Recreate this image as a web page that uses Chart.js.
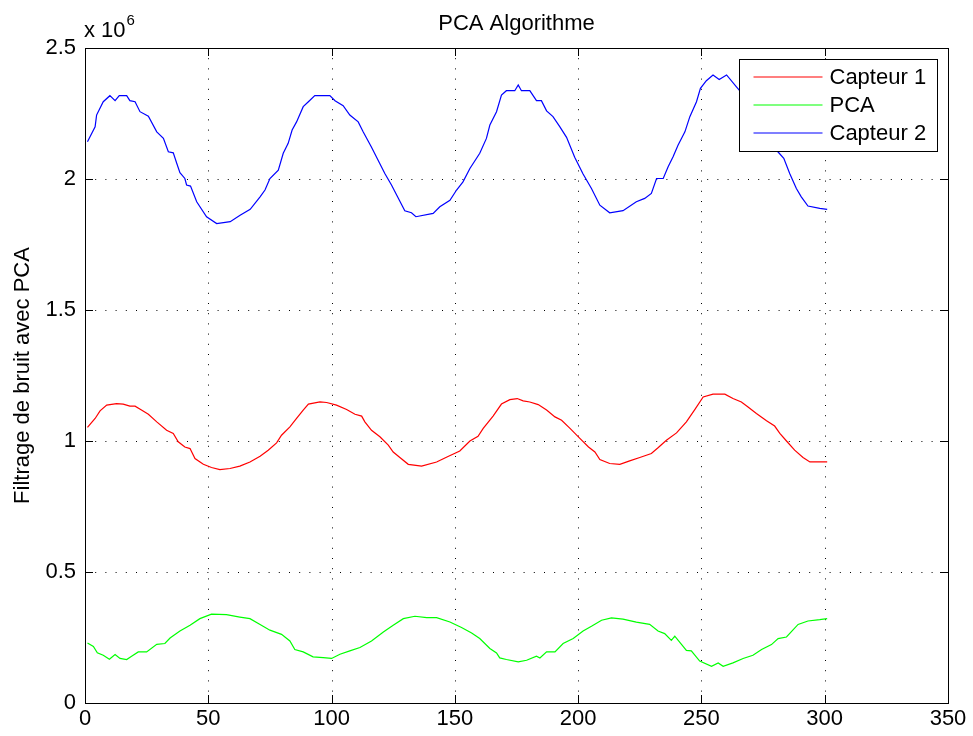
<!DOCTYPE html>
<html>
<head>
<meta charset="utf-8">
<script src="https://cdn.jsdelivr.net/npm/chart.js@4.4.0/dist/chart.umd.min.js"></script>
<style>
html,body{margin:0;padding:0;background:#fff;}
canvas{display:block;}
</style>
</head>
<body>
<canvas id="c" width="973" height="736"></canvas>
<script>
// ---- Data (y values in units of 10^6) ----
const xTicks = [0, 50, 100, 150, 200, 250, 300, 350];
const yTicks = [0, 0.5, 1, 1.5, 2, 2.5];
const seriesNames = ["Capteur 1", "PCA", "Capteur 2"];

const capteur1X = [1,4.1,6.1,8.8,12.8,15.5,18.2,20.3,22.9,25.7,29.1,33.1,35.8,37.8,40.5,42.6,44.6,48,51.3,54.7,58.8,62.8,66.9,71,74.3,77.7,79.7,83.1,85.8,88.5,90.6,95.3,98,102,106.1,109.5,112.2,113.5,116.2,119.6,123,125,127.7,131.1,136.5,142.6,147,152,156.1,159.4,161.5,165.5,168.9,172.3,175.3,177.7,180.4,183.8,187.2,190.6,193.3,196.7,200.7,204.2,206.8,208.8,212.8,216.9,220.9,225,229.7,232.4,235.8,239.9,243.9,247.3,250.7,254.7,259.5,262.8,266.2,268.9,272.3,276.4,279.7,281.8,284.5,287.8,291.2,294,301];
const capteur1Y = [1.052,1.086,1.115,1.137,1.143,1.141,1.133,1.133,1.118,1.102,1.073,1.041,1.029,0.997,0.977,0.971,0.933,0.911,0.899,0.891,0.895,0.904,0.920,0.942,0.965,0.993,1.022,1.054,1.086,1.118,1.141,1.149,1.147,1.137,1.120,1.102,1.095,1.073,1.041,1.016,0.984,0.958,0.937,0.911,0.904,0.920,0.940,0.962,1.000,1.018,1.048,1.095,1.141,1.158,1.162,1.153,1.149,1.139,1.118,1.092,1.079,1.048,1.010,0.977,0.958,0.929,0.914,0.911,0.924,0.937,0.952,0.974,1.003,1.031,1.073,1.120,1.168,1.179,1.179,1.162,1.149,1.130,1.105,1.077,1.057,1.029,1.000,0.965,0.937,0.920,0.920];

const pcaX = [1,3.4,5,7.4,9.9,12.2,14.2,16.9,18.9,21.6,25,29.1,32.4,34.5,38.5,42.6,46.6,51.3,57.4,62.8,66.9,71,75,79.7,83.1,85.1,88.5,92.5,96.6,100,103.4,107.4,111.5,116.2,121,125,129.1,133.8,138.6,142.6,148,152.7,156.8,160.1,164.2,166.9,168.2,170.9,175.7,179.1,183.1,184.5,187.2,190.6,193.9,198,202,205.4,209.5,213.5,218.2,223.6,229,232.4,235.1,237.8,239.2,243.9,245.9,249.3,254.1,256.8,258.8,262.8,266.9,270.9,274.4,278.4,281.1,284.5,289.2,293.2,298,301];
const pcaY = [0.229,0.216,0.192,0.182,0.167,0.185,0.170,0.166,0.178,0.195,0.195,0.224,0.227,0.248,0.275,0.297,0.322,0.339,0.337,0.328,0.322,0.300,0.278,0.262,0.237,0.204,0.195,0.176,0.173,0.170,0.186,0.199,0.212,0.237,0.271,0.297,0.322,0.331,0.326,0.326,0.309,0.288,0.267,0.246,0.208,0.191,0.172,0.166,0.157,0.163,0.179,0.172,0.195,0.195,0.227,0.246,0.275,0.293,0.316,0.325,0.320,0.309,0.300,0.275,0.265,0.239,0.255,0.201,0.199,0.160,0.140,0.153,0.140,0.153,0.170,0.182,0.204,0.223,0.246,0.252,0.300,0.313,0.318,0.322];

const capteur2X = [1,4.1,4.7,7.4,10.1,12.2,13.9,16.9,18.2,20.3,22.3,25.7,29.1,31.8,33.8,35.8,37.2,38.5,40.5,41.2,42.8,45.3,49.3,53.4,58.9,62.9,67,71,73,75,78.4,80.4,82.4,84,85.8,88.5,90.6,93.2,99.3,101.4,104.7,107.4,110.8,112.8,116.2,121.6,124.3,129.7,132.4,134.2,141.2,143.9,148,150.7,153.3,156.1,160.1,162.8,164.2,166.9,168.9,170.9,174.3,175.7,177,180.4,183.1,185.1,187.2,189.8,192.6,195.3,198.6,202,205.4,208.8,212.8,218.2,223.6,227,229.7,231.8,234.5,236.5,238.5,240.5,243.3,245.3,248,249.6,252,254.7,257.2,260.2,264.2,268,272,276,279,281,283.4,285.8,288.5,290.5,293.2,298,301];
const capteur2Y = [2.142,2.199,2.244,2.295,2.318,2.299,2.318,2.318,2.299,2.295,2.257,2.240,2.180,2.155,2.104,2.100,2.060,2.024,2.002,1.977,1.973,1.913,1.856,1.830,1.837,1.862,1.884,1.932,1.958,2.002,2.034,2.098,2.136,2.187,2.218,2.276,2.295,2.318,2.318,2.299,2.280,2.244,2.218,2.180,2.121,2.021,1.977,1.879,1.871,1.856,1.869,1.894,1.919,1.958,1.989,2.040,2.098,2.155,2.206,2.257,2.320,2.337,2.337,2.359,2.337,2.337,2.299,2.299,2.260,2.238,2.199,2.159,2.083,2.019,1.964,1.900,1.871,1.879,1.913,1.926,1.945,2.002,2.002,2.047,2.085,2.129,2.180,2.238,2.295,2.346,2.375,2.397,2.380,2.397,2.352,2.310,2.250,2.180,2.130,2.104,2.079,2.021,1.964,1.932,1.897,1.888,1.884];

const seriesX = [capteur1X, pcaX, capteur2X];
const seriesY = [capteur1Y, pcaY, capteur2Y];
const seriesColors = ["#ff0000", "#00ff00", "#0000ff"];

const FONT = "'Liberation Sans', Arial, Helvetica, sans-serif";
const FS = 22;

const datasets = seriesNames.map((name, k) => ({
  label: name,
  data: seriesX[k].map((x, i) => ({ x: x, y: seriesY[k][i] })),
  borderColor: seriesColors[k],
  borderWidth: 1.2,
  pointRadius: 0,
  fill: false,
  tension: 0
}));

const matlabPlugin = {
  id: 'matlab',
  beforeDatasetsDraw(chart) {
    const { ctx, chartArea: a, scales: { x, y } } = chart;
    ctx.save();
    ctx.strokeStyle = '#000';
    ctx.lineWidth = 1;
    ctx.setLineDash([1, 9.2]);
    xTicks.forEach(v => {
      if (v === xTicks[0] || v === xTicks[xTicks.length - 1]) return;
      const px = Math.round(x.getPixelForValue(v)) + 0.5;
      ctx.beginPath(); ctx.moveTo(px, a.top); ctx.lineTo(px, a.bottom); ctx.stroke();
    });
    yTicks.forEach(v => {
      if (v === yTicks[0] || v === yTicks[yTicks.length - 1]) return;
      const py = Math.round(y.getPixelForValue(v)) + 0.5;
      ctx.beginPath(); ctx.moveTo(a.left, py); ctx.lineTo(a.right, py); ctx.stroke();
    });
    ctx.restore();
  },
  afterDraw(chart) {
    const { ctx, chartArea: a, scales: { x, y } } = chart;
    ctx.save();
    // ticks (inward)
    ctx.strokeStyle = '#000';
    ctx.lineWidth = 1;
    ctx.setLineDash([]);
    const tl = 8;
    xTicks.forEach(v => {
      const px = Math.round(x.getPixelForValue(v)) + 0.5;
      ctx.beginPath();
      ctx.moveTo(px, a.bottom); ctx.lineTo(px, a.bottom - tl);
      ctx.moveTo(px, a.top); ctx.lineTo(px, a.top + tl);
      ctx.stroke();
    });
    yTicks.forEach(v => {
      const py = Math.round(y.getPixelForValue(v)) + 0.5;
      ctx.beginPath();
      ctx.moveTo(a.left, py); ctx.lineTo(a.left + tl, py);
      ctx.moveTo(a.right, py); ctx.lineTo(a.right - tl, py);
      ctx.stroke();
    });
    // box
    ctx.strokeRect(Math.round(a.left) + 0.5, Math.round(a.top) + 0.5,
                   Math.round(a.right - a.left), Math.round(a.bottom - a.top));

    // legend
    const lx = Math.round(a.right - 209) + 0.5, ly = Math.round(a.top + 11) + 0.5;
    const lw = 198, lh = 92;
    ctx.fillStyle = '#fff';
    ctx.fillRect(lx, ly, lw, lh);
    ctx.strokeStyle = '#000';
    ctx.strokeRect(lx, ly, lw, lh);
    ctx.font = FS + 'px ' + FONT;
    ctx.textBaseline = 'middle';
    ctx.textAlign = 'left';
    seriesNames.forEach((name, k) => {
      const ry = ly + 17.5 + k * 28;
      ctx.strokeStyle = seriesColors[k];
      ctx.lineWidth = 1.2;
      ctx.beginPath(); ctx.moveTo(lx + 14, ry); ctx.lineTo(lx + 83, ry); ctx.stroke();
      ctx.fillStyle = '#000';
      ctx.fillText(name, lx + 90, ry + 1);
    });

    // title
    ctx.fillStyle = '#000';
    ctx.textAlign = 'center';
    ctx.textBaseline = 'alphabetic';
    ctx.font = FS + 'px ' + FONT;
    ctx.fillText('PCA Algorithme', (a.left + a.right) / 2, 30);

    // multiplier
    ctx.textAlign = 'left';
    ctx.font = FS + 'px ' + FONT;
    ctx.fillText('x 10', a.left - 1, 37);
    const w = ctx.measureText('x 10').width;
    ctx.font = '15px ' + FONT;
    ctx.fillText('6', a.left - 1 + w + 1, 25);

    // y label
    ctx.save();
    ctx.translate(29, (a.top + a.bottom) / 2);
    ctx.rotate(-Math.PI / 2);
    ctx.textAlign = 'center';
    ctx.textBaseline = 'alphabetic';
    ctx.font = FS + 'px ' + FONT;
    ctx.fillText('Filtrage de bruit avec PCA', 0, 0);
    ctx.restore();

    ctx.restore();
  }
};

new Chart(document.getElementById('c'), {
  type: 'line',
  data: { datasets: datasets },
  options: {
    responsive: false,
    animation: false,
    devicePixelRatio: 1,
    layout: { padding: { top: 48, right: 25, left: 0, bottom: 0 } },
    plugins: { legend: { display: false }, title: { display: false }, tooltip: { enabled: false } },
    scales: {
      x: {
        type: 'linear', min: xTicks[0], max: xTicks[xTicks.length - 1],
        afterBuildTicks: s => { s.ticks = xTicks.map(v => ({ value: v })); },
        ticks: { color: '#000', font: { family: FONT, size: FS }, padding: 3, maxRotation: 0, autoSkip: false },
        grid: { display: false, drawTicks: false },
        border: { display: false },
        afterFit: s => { s.height = 33; }
      },
      y: {
        type: 'linear', min: yTicks[0], max: yTicks[yTicks.length - 1],
        afterBuildTicks: s => { s.ticks = yTicks.map(v => ({ value: v })); },
        ticks: { color: '#000', font: { family: FONT, size: FS }, padding: 9, autoSkip: false,
                 callback: v => String(v) },
        grid: { display: false, drawTicks: false },
        border: { display: false },
        afterFit: s => { s.width = 85; }
      }
    }
  },
  plugins: [matlabPlugin]
});
</script>
</body>
</html>
